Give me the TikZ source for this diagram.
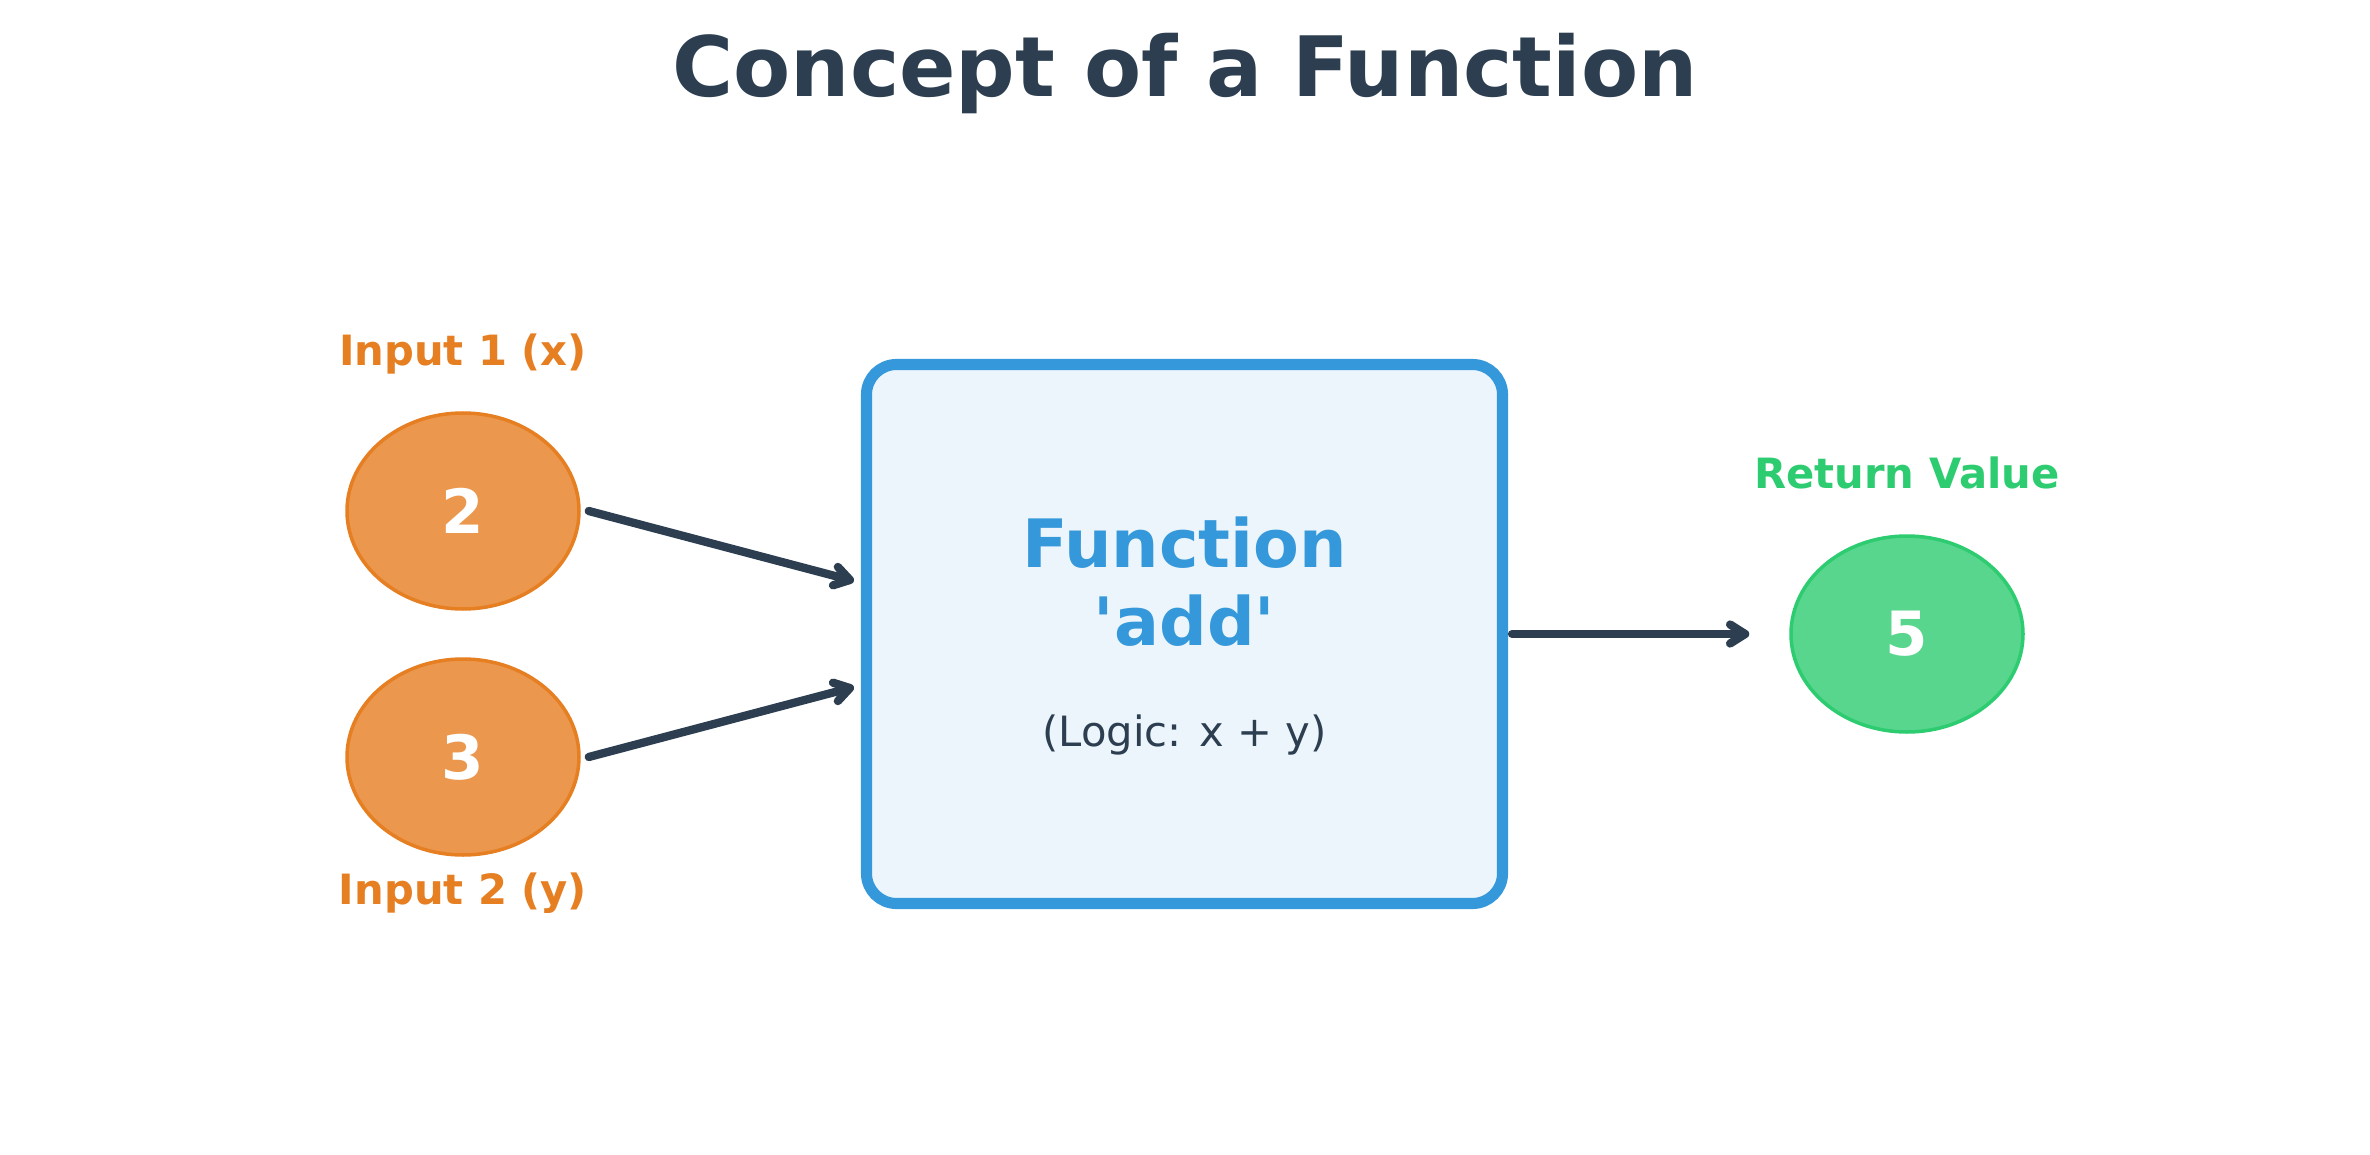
\documentclass[tikz,border=0pt]{standalone}
\usepackage{fontspec}
\setmainfont{DejaVu Sans}
\usetikzlibrary{arrows.meta,shapes.geometric}
\definecolor{dark}{HTML}{2C3E50}
\definecolor{orng}{HTML}{E67E22}
\definecolor{orngfill}{HTML}{EB984E}
\definecolor{blu}{HTML}{3498DB}
\definecolor{boxfill}{HTML}{EBF5FB}
\definecolor{grn}{HTML}{2ECC71}
\definecolor{grnfill}{HTML}{58D68D}
\tikzset{
  valnode/.style={ellipse, minimum width=232pt, minimum height=196pt, inner sep=0pt, line width=3.5pt,
    font=\fontsize{61}{61}\selectfont\bfseries, text=white},
  lbl/.style={anchor=base, inner sep=0pt, font=\fontsize{41.7}{50}\selectfont\bfseries},
  arr/.style={draw=dark, line width=8.3pt, line cap=round, line join=round,
    -{Straight Barb[length=15pt,width=19pt,line cap=round,line join=round]}},
}
\begin{document}
\begin{tikzpicture}[x=1pt,y=-1pt]
\useasboundingbox (0,0) rectangle (2370,1155);
\fill[white] (0,0) rectangle (2370,1155);

\node[anchor=base, inner sep=0pt, text=dark, font=\fontsize{83.3}{100}\selectfont\bfseries] (title) at (1185,97) {Concept of a Function};

\node[valnode, draw=orng, fill=orngfill] (e2) at (463,511) {2};
\node[valnode, draw=orng, fill=orngfill] (e3) at (463,757) {3};
\node[lbl, text=orng] (l1) at (463,366) {Input 1 (x)};
\node[lbl, text=orng] (l2) at (463,904) {Input 2 (y)};

\node[draw=blu, fill=boxfill, line width=11.1pt, rounded corners=30pt, minimum width=636pt, minimum height=539pt, inner sep=0pt] (box) at (1184.5,634) {};
\node[anchor=base, inner sep=0pt, text=blu, font=\fontsize{66.7}{80}\selectfont\bfseries] (fn) at (1184.5,567) {Function};
\node[anchor=base, inner sep=0pt, text=blu, font=\fontsize{66.7}{80}\selectfont\bfseries] (fadd) at (1184.5,645) {\textquotesingle add\textquotesingle};
\node[anchor=base, inner sep=0pt, text=dark, font=\fontsize{41.7}{50}\selectfont] (logic) at (1184.5,746) {(Logic: x + y)};

\node[valnode, draw=grn, fill=grnfill] (e5) at (1907,634) {5};
\node[lbl, text=grn] (rv) at (1907,488) {Return Value};

\draw[arr] ([xshift=8pt]e2.east) -- ([xshift=-7pt,yshift=53pt]box.west);
\draw[arr] ([xshift=8pt]e3.east) -- ([xshift=-7pt,yshift=-53pt]box.west);
\draw[arr] ([xshift=4pt]box.east) -- ([xshift=-40pt]e5.west);
\end{tikzpicture}
\end{document}
